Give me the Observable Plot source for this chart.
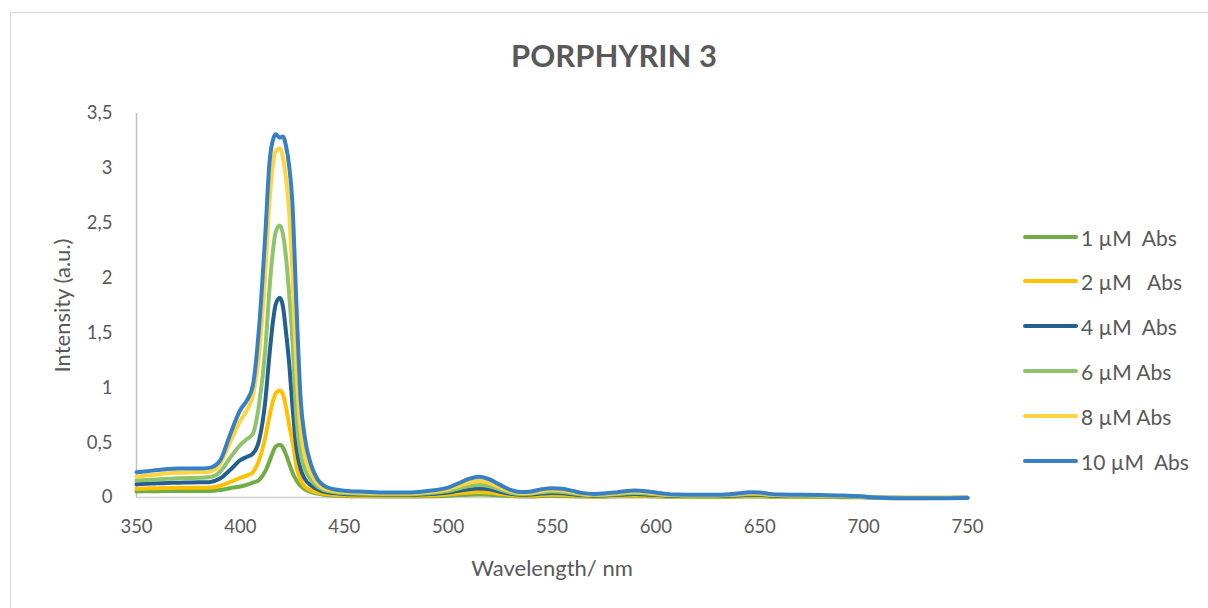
<!DOCTYPE html>
<html>
<head>
<meta charset="utf-8">
<script src="https://cdn.jsdelivr.net/npm/d3@7"></script>
<script src="https://cdn.jsdelivr.net/npm/@observablehq/plot@0.6"></script>
<style>
  html, body { margin: 0; padding: 0; background: #fff; }
  body { width: 1208px; height: 608px; position: relative; overflow: hidden; font-family: Lato, "Open Sans", sans-serif; }
  #frame { position: absolute; left: 10px; top: 12px; width: 1220px; height: 620px; border: 1px solid #d9d9d9; box-sizing: border-box; }
  #title { position: absolute; left: 0; width: 1228px; top: 36px; text-align: center; font-size: 31px; font-weight: bold; color: #595959; }
  #chart { position: absolute; left: 0; top: 0; }
  #legend { position: absolute; left: 1023px; top: 0; }
  .item { position: absolute; left: 0; height: 26px; white-space: pre; font-size: 21px; color: #595959; display: flex; align-items: center; }
  .swatch { width: 55px; height: 4px; border-radius: 2px; margin-right: 3px; }
</style>
</head>
<body>
<div id="frame"></div>
<div id="title">PORPHYRIN 3</div>
<div id="chart"></div>
<div id="legend"></div>
<script>
const seriesNames = ["1 µM  Abs", "2 µM   Abs", "4 µM  Abs", "6 µM Abs", "8 µM Abs", "10 µM  Abs"];
const seriesColors = ["#70AD47", "#FFC000", "#255E91", "#8FC46C", "#FFD43F", "#3780C6"];
const xTicks = [350, 400, 450, 500, 550, 600, 650, 700, 750];
const yTicks = [0, 0.5, 1, 1.5, 2, 2.5, 3, 3.5];
const xTitle = "Wavelength/ nm";
const yTitle = "Intensity (a.u.)";

const wavelength = [350,355,360,365,370,375,380,385,390,395,400,403,406,409,412,414,416,417,419,420.5,422,423.5,425,427,429,431,434,437,440,445,450,460,470,480,490,500,505,510,515,520,525,530,535,540,545,550,555,560,565,570,575,580,585,590,595,600,605,610,620,630,640,645,650,655,660,670,680,690,700,705,710,720,730,740,750];

const abs1 = [0.055,0.057,0.058,0.059,0.06,0.06,0.06,0.06,0.068,0.085,0.10,0.115,0.135,0.16,0.24,0.33,0.43,0.465,0.48,0.455,0.39,0.31,0.23,0.155,0.105,0.075,0.05,0.035,0.025,0.018,0.014,0.011,0.01,0.01,0.012,0.017,0.022,0.026,0.028,0.025,0.019,0.013,0.01,0.01,0.013,0.015,0.014,0.011,0.008,0.007,0.007,0.009,0.011,0.012,0.011,0.009,0.007,0.006,0.005,0.005,0.008,0.01,0.009,0.007,0.006,0.005,0.004,0.003,0.002,0.0,-0.002,-0.002,-0.002,-0.002,-0.002];

const abs2 = [0.08,0.083,0.085,0.087,0.088,0.089,0.09,0.09,0.105,0.14,0.18,0.20,0.23,0.34,0.55,0.74,0.90,0.95,0.975,0.94,0.82,0.66,0.52,0.28,0.16,0.10,0.065,0.045,0.035,0.025,0.02,0.016,0.015,0.015,0.019,0.028,0.038,0.046,0.05,0.045,0.033,0.021,0.015,0.016,0.022,0.025,0.023,0.018,0.012,0.01,0.011,0.014,0.017,0.019,0.017,0.014,0.011,0.009,0.008,0.008,0.012,0.015,0.014,0.011,0.009,0.008,0.007,0.005,0.003,0.0,-0.002,-0.003,-0.003,-0.002,-0.002];

const abs4 = [0.12,0.125,0.13,0.133,0.135,0.137,0.138,0.14,0.17,0.25,0.34,0.37,0.40,0.52,0.88,1.30,1.65,1.76,1.82,1.74,1.50,1.22,0.85,0.45,0.26,0.17,0.11,0.075,0.055,0.04,0.032,0.027,0.024,0.024,0.03,0.045,0.062,0.076,0.082,0.074,0.053,0.034,0.025,0.027,0.036,0.041,0.038,0.029,0.02,0.017,0.018,0.022,0.028,0.031,0.028,0.022,0.017,0.014,0.013,0.013,0.019,0.024,0.023,0.017,0.014,0.013,0.011,0.009,0.005,0.0,-0.003,-0.004,-0.004,-0.004,-0.003];

const abs6 = [0.155,0.16,0.165,0.17,0.175,0.178,0.18,0.185,0.23,0.36,0.48,0.53,0.58,0.85,1.35,1.90,2.30,2.42,2.48,2.40,2.18,1.85,1.45,0.72,0.40,0.26,0.16,0.10,0.07,0.05,0.04,0.034,0.03,0.03,0.038,0.058,0.082,0.104,0.115,0.102,0.072,0.044,0.032,0.035,0.048,0.055,0.051,0.038,0.026,0.022,0.023,0.029,0.037,0.042,0.037,0.029,0.022,0.018,0.016,0.017,0.025,0.032,0.03,0.022,0.018,0.016,0.014,0.011,0.006,0.0,-0.004,-0.005,-0.005,-0.004,-0.004];

const abs8 = [0.19,0.20,0.21,0.22,0.225,0.228,0.23,0.235,0.30,0.50,0.70,0.79,0.93,1.30,2.05,2.70,3.08,3.16,3.18,3.10,2.90,2.60,2.05,1.15,0.62,0.38,0.22,0.13,0.085,0.06,0.05,0.042,0.036,0.036,0.048,0.075,0.105,0.135,0.15,0.132,0.092,0.056,0.04,0.044,0.06,0.07,0.065,0.048,0.032,0.027,0.029,0.036,0.047,0.052,0.047,0.036,0.027,0.022,0.02,0.021,0.031,0.039,0.037,0.027,0.022,0.02,0.018,0.014,0.008,0.0,-0.004,-0.006,-0.006,-0.005,-0.004];

const abs10 = [0.23,0.24,0.25,0.26,0.265,0.265,0.265,0.27,0.33,0.57,0.80,0.88,1.02,1.55,2.40,3.05,3.28,3.31,3.28,3.29,3.20,3.02,2.70,1.75,0.90,0.55,0.30,0.17,0.11,0.075,0.062,0.052,0.045,0.045,0.06,0.09,0.13,0.17,0.19,0.165,0.115,0.07,0.05,0.055,0.075,0.085,0.08,0.06,0.04,0.033,0.036,0.045,0.058,0.064,0.058,0.045,0.033,0.027,0.024,0.025,0.038,0.047,0.045,0.033,0.027,0.025,0.022,0.018,0.01,0.0,-0.005,-0.007,-0.007,-0.006,-0.005];

const allSeries = [abs1, abs2, abs4, abs6, abs8, abs10];

const fmt = d => String(d).replace(".", ",");

const lineMarks = allSeries.map((vals, i) => {
  const rows = wavelength.map((w, j) => ({w, v: vals[j], s: seriesNames[i]}));
  return Plot.line(rows, {x: "w", y: "v", stroke: seriesColors[i], strokeWidth: 4, curve: "monotone-x", strokeLinejoin: "round"});
});

const chart = Plot.plot({
  width: 1000,
  height: 608,
  marginLeft: 136,
  marginRight: 33,
  marginTop: 113,
  marginBottom: 111,
  style: {fontFamily: "Lato, 'Open Sans', sans-serif", fontSize: "18px", color: "#595959", background: "transparent"},
  x: {domain: [350, 750]},
  y: {domain: [0, 3.5]},
  marks: [
    Plot.ruleX([350], {stroke: "#bfbfbf", strokeWidth: 1.5}),
    Plot.ruleY([0], {stroke: "#d0d0d0", strokeWidth: 1.5}),
    Plot.axisX({ticks: xTicks, tickSize: 0, tickPadding: 22, tickFormat: fmt, fill: "#595959", fontSize: 18.5, label: null}),
    Plot.axisY({ticks: yTicks, tickSize: 0, tickPadding: 24, tickFormat: fmt, fill: "#595959", fontSize: 18.5, label: null}),
    Plot.text([xTitle], {frameAnchor: "bottom", dy: 71, fontSize: 22, fill: "#595959", textAnchor: "middle", lineAnchor: "middle"}),
    Plot.text([yTitle], {frameAnchor: "left", dx: -74, rotate: -90, fontSize: 22, fill: "#595959", textAnchor: "middle", lineAnchor: "middle"}),
    ...lineMarks
  ]
});
document.getElementById("chart").appendChild(chart);

const legend = document.getElementById("legend");
const rowY = [237, 281, 326, 371, 416, 461];
seriesNames.forEach((name, i) => {
  const item = document.createElement("div");
  item.className = "item";
  item.style.top = (rowY[i] - 13) + "px";
  const sw = document.createElement("div");
  sw.className = "swatch";
  sw.style.background = seriesColors[i];
  const t = document.createElement("span");
  t.textContent = name;
  item.appendChild(sw);
  item.appendChild(t);
  legend.appendChild(item);
});
</script>
</body>
</html>
